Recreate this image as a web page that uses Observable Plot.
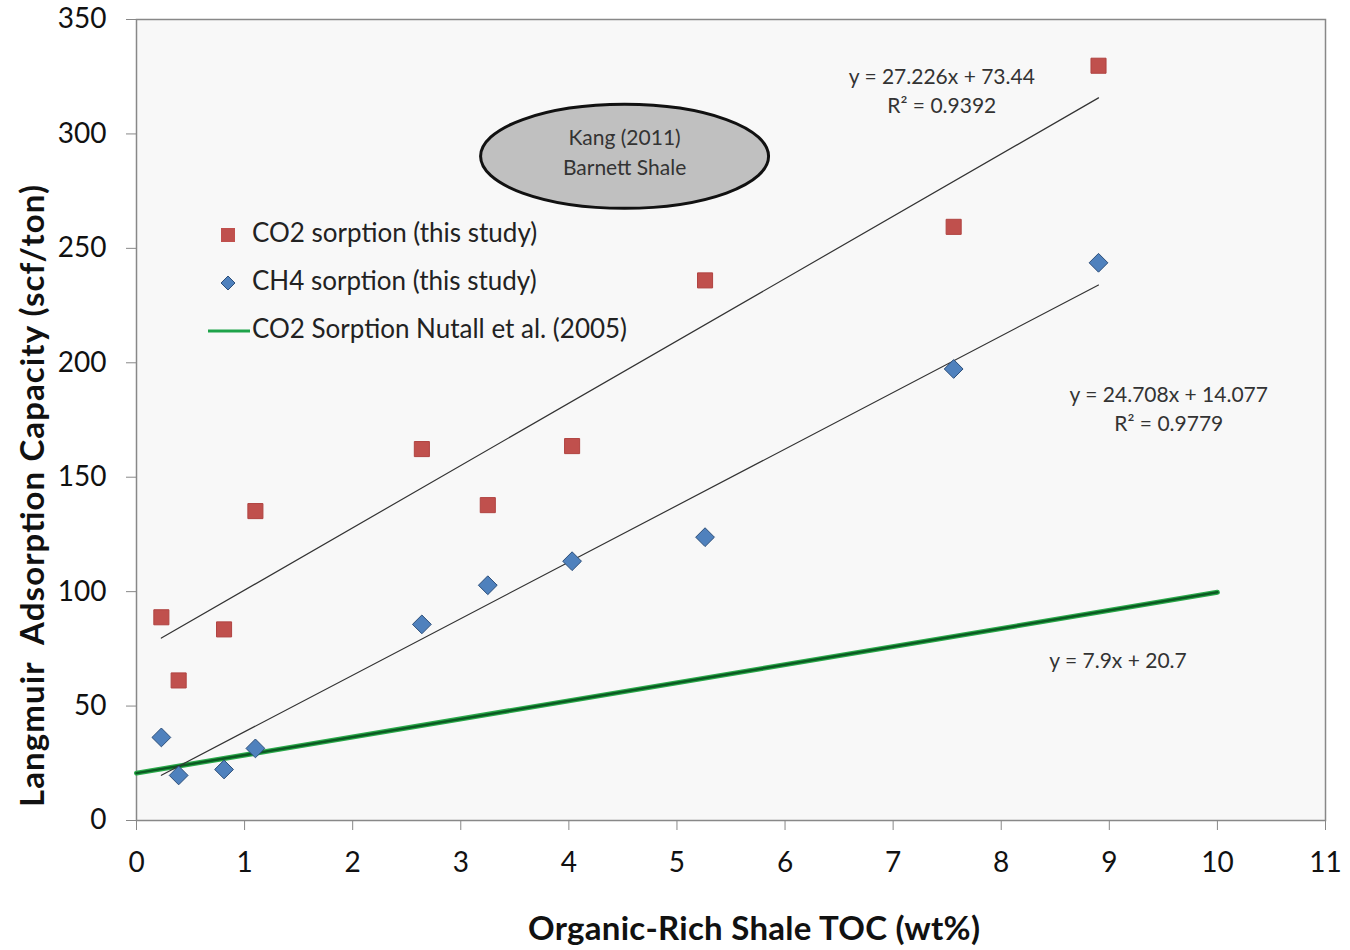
<!DOCTYPE html>
<html><head><meta charset="utf-8">
<script src="https://cdn.jsdelivr.net/npm/d3@7"></script>
<script src="https://cdn.jsdelivr.net/npm/@observablehq/plot@0.6"></script>
<style>
body{margin:0;background:#fff;}
#chart{position:relative;width:1350px;height:950px;}
</style></head>
<body><div id="chart"></div>
<script>
// ---- data ----
const toc = [0.23, 0.39, 0.81, 1.10, 2.64, 3.25, 4.03, 5.26, 7.56, 8.90];
const co2 = [88.8, 61.2, 83.5, 135.2, 162.3, 137.8, 163.6, 236.0, 259.4, 329.8];
const ch4 = [36.3, 19.7, 22.3, 31.5, 85.7, 102.8, 113.3, 123.8, 197.3, 243.7];
const fitNames = ["co2", "ch4", "nutall"];
const fitSlopes = [27.226, 24.708, 7.9];
const fitIntercepts = [73.44, 14.077, 20.7];
const fitX0 = [0.23, 0.23, 0];
const fitX1 = [8.90, 8.90, 10];
const eqLabels = ["y = 27.226x + 73.44\nR² = 0.9392", "y = 24.708x + 14.077\nR² = 0.9779", "y = 7.9x + 20.7"];
const eqX = [7.45, 9.55, 9.08];
const eqY = [331, 192, 75.5];
const xTicks = [0,1,2,3,4,5,6,7,8,9,10,11];
const yTicks = [0,50,100,150,200,250,300,350];
const legendLabels = ["CO2 sorption (this study)", "CH4 sorption (this study)", "CO2 Sorption Nutall et al. (2005)"];
const xTitle = "Organic-Rich Shale TOC (wt%)";
const yTitle = "Langmuir  Adsorption Capacity (scf/ton)";
const noteText = ["Kang (2011)", "Barnett Shale"];
const noteX = 4.52, noteY = 290;

// ---- build tables ----
const co2Pts = toc.map((x,i)=>({x, y: co2[i]}));
const ch4Pts = toc.map((x,i)=>({x, y: ch4[i]}));
const fits = fitNames.map((n,i)=>[
  {name:n, x: fitX0[i], y: fitSlopes[i]*fitX0[i]+fitIntercepts[i]},
  {name:n, x: fitX1[i], y: fitSlopes[i]*fitX1[i]+fitIntercepts[i]}
]);
const eqs = eqLabels.map((t,i)=>({t, x: eqX[i], y: eqY[i]}));

const FONT = "Lato, 'Open Sans', sans-serif";

// square rotated 45° (Excel-style diamond)
const squareDiamond = {
  draw(ctx, size) {
    const r = Math.sqrt(size / 2);
    ctx.moveTo(0, -r); ctx.lineTo(r, 0); ctx.lineTo(0, r); ctx.lineTo(-r, 0); ctx.closePath();
  }
};

function ellipseMark(_, {x, y}) {
  const g = d3.create("svg:g");
  const cx = x(noteX), cy = y(noteY);
  g.append("ellipse").attr("cx", cx).attr("cy", cy).attr("rx", 144).attr("ry", 52)
    .attr("fill", "#c0c0c0").attr("stroke", "#111").attr("stroke-width", 3);
  noteText.forEach((t, i) => {
    g.append("text").attr("x", cx).attr("y", cy - 17 + i*30).attr("text-anchor", "middle")
      .attr("dominant-baseline", "middle").attr("font-size", 21).attr("fill", "#333")
      .attr("font-family", FONT).text(t);
  });
  return g.node();
}

function legendMark(_, scales, values, dims) {
  const g = d3.create("svg:g").attr("font-family", FONT);
  const left = dims.marginLeft, top = dims.marginTop;
  const rows = [216, 264, 312];
  legendLabels.forEach((t, i) => {
    const ry = top + rows[i];
    if (i === 0) g.append("rect").attr("x", left + 85).attr("y", ry - 7).attr("width", 14).attr("height", 14).attr("fill", "#c0504d");
    if (i === 1) g.append("path").attr("d", `M${left+92},${ry-7}L${left+99},${ry}L${left+92},${ry+7}L${left+85},${ry}Z`).attr("fill", "#4f81bd").attr("stroke", "#2d4f7a");
    if (i === 2) g.append("line").attr("x1", left + 72).attr("x2", left + 114).attr("y1", ry).attr("y2", ry).attr("stroke", "#1ea34a").attr("stroke-width", 3);
    g.append("text").attr("x", left + 116).attr("y", ry).attr("dominant-baseline", "middle")
      .attr("text-anchor", "start").attr("font-size", 26).attr("fill", "#222").text(t);
  });
  // axis titles
  g.append("text").attr("x", 754)
    .attr("y", 932).attr("text-anchor", "middle").attr("dominant-baseline", "middle")
    .attr("font-size", 33).attr("font-weight", "bold").attr("fill", "#111")
    .attr("textLength", 452).attr("lengthAdjust", "spacing").text(xTitle);
  g.append("text").attr("transform", "translate(36,496) rotate(-90)")
    .attr("text-anchor", "middle").attr("dominant-baseline", "middle")
    .attr("font-size", 33).attr("font-weight", "bold").attr("fill", "#111")
    .attr("textLength", 622).attr("lengthAdjust", "spacing").text(yTitle);
  return g.node();
}

const chart = Plot.plot({
  width: 1350, height: 950,
  marginLeft: 136, marginRight: 25, marginTop: 19, marginBottom: 130,
  style: {fontFamily: FONT, background: "#fff", color: "#222"},
  x: {domain: [0, 11], ticks: xTicks, label: null},
  y: {domain: [0, 350], ticks: yTicks, label: null},
  marks: [
    Plot.frame({fill: "#f8f8f8", stroke: "#888", strokeWidth: 1.5}),
    Plot.axisX({ticks: xTicks, tickSize: 10, tickPadding: 22, fontSize: 28, stroke: "#888", fill: "#111", tickFormat: d=>d}),
    Plot.axisY({ticks: yTicks, tickSize: 10, tickPadding: 20, fontSize: 28, stroke: "#888", fill: "#111", tickFormat: d=>d}),
    // Nutall line (two-tone)
    Plot.line(fits[2], {x:"x", y:"y", stroke: "#2aaa4a", strokeWidth: 5}),
    Plot.line(fits[2], {x:"x", y:"y", stroke: "#0b5a22", strokeWidth: 2.5}),
    // trendlines
    Plot.line(fits[0], {x:"x", y:"y", stroke: "#333", strokeWidth: 1.2}),
    Plot.line(fits[1], {x:"x", y:"y", stroke: "#333", strokeWidth: 1.2}),
    // points
    Plot.dot(co2Pts, {x:"x", y:"y", symbol:"square", r: 8.5, fill:"#c0504d", stroke:"#b04340", strokeWidth: 1}),
    Plot.dot(ch4Pts, {x:"x", y:"y", symbol: squareDiamond, r: 7.5, fill:"#4f81bd", stroke:"#2d4f7a", strokeWidth: 1}),
    // equations
    Plot.text(eqs, {x:"x", y:"y", text:"t", fontSize: 21, fill:"#333", lineHeight: 1.38, lineAnchor:"top", textAnchor:"middle"}),
    // annotation ellipse
    ellipseMark,
    legendMark
  ]
});
document.getElementById("chart").appendChild(chart);
</script></body></html>
